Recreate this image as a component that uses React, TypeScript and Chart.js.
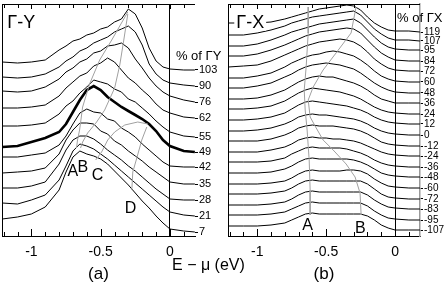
import React, { useEffect, useRef } from "react";
import { Chart, registerables } from "chart.js";

Chart.register(...registerables);

const FONT = '"Liberation Sans", Arial, Helvetica, sans-serif';

// Energy grid E - mu (eV) shared by all spectra
const energy = [-1.21, -1.1, -1.0, -0.9, -0.8, -0.75, -0.7, -0.65, -0.6, -0.55, -0.5, -0.45, -0.4, -0.35, -0.3, -0.25, -0.2, -0.15, -0.1, -0.05, 0, 0.1, 0.18];
const energyTicks = [-1.2, -1.1, -1.0, -0.9, -0.8, -0.7, -0.6, -0.5, -0.4, -0.3, -0.2, -0.1, 0, 0.1];
const labelledEnergies = [-1, -0.5, 0];

// ---------- Panel (a) : Gamma-Y, intensity (arb. units, offset) ----------
const gyLabels = ["103", "90", "76", "62", "55", "49", "42", "35", "28", "21", "7"];
const gy103 = [174, 173, 174, 176, 186, 190, 195, 197, 201, 203, 207, 209, 214, 217, 227, 222, 208, 188, 175, 169, 167, 166, 166];
const gy90 = [159, 158, 159, 162, 169, 175, 179, 185, 188, 193, 196, 199, 204, 207, 210, 204, 191, 172, 162, 156, 153, 151, 150];
const gy76 = [145, 144, 145, 149, 157, 164, 168, 174, 177, 183, 185, 190, 191, 193, 188, 177, 168, 158, 150, 144, 140, 136, 134];
const gy62 = [128, 128, 129, 131, 140, 148, 154, 160, 163, 170, 173, 178, 174, 166, 158, 153, 146, 140, 132, 126, 123, 119, 118];
const gy55 = [110, 110, 111, 113, 122, 130, 135, 143, 149, 156, 154, 152, 147, 144, 137, 134, 128, 122, 115, 109, 104, 100, 99];
const gy49 = [89, 90, 94, 98, 104, 112, 124, 136, 146, 150, 146, 139, 134, 129, 125, 121, 117, 112, 105, 96, 90, 85, 84];
const gy42 = [79, 79, 81, 83, 91, 100, 112, 123, 127, 124, 123, 117, 115, 108, 104, 99, 92, 86, 80, 74, 70, 69, 69];
const gy35 = [63, 64, 65, 68, 82, 96, 106, 113, 113, 112, 105, 102, 95, 91, 85, 80, 75, 69, 64, 59, 54, 52, 52];
const gy28 = [48, 48, 50, 54, 72, 86, 96, 100, 100, 97, 92, 86, 81, 76, 70, 65, 59, 53, 47, 42, 37, 36, 36];
const gy21 = [33, 32, 36, 41, 56, 70, 85, 92, 90, 87, 82, 77, 71, 65, 59, 53, 47, 41, 35, 29, 24, 21, 20];
const gy7 = [17, 19, 22, 29, 46, 64, 79, 85, 82, 80, 77, 72, 65, 58, 51, 43, 35, 28, 20, 13, 7, 5, 4];
const gyCurves = [gy103, gy90, gy76, gy62, gy55, gy49, gy42, gy35, gy28, gy21, gy7];
const gyThick = 5;

// dispersion guide lines (E, intensity)
const gyTrackA = [[-0.304, 224], [-0.42, 196], [-0.507, 176], [-0.58, 152], [-0.63, 129], [-0.652, 106], [-0.667, 96], [-0.674, 88]];
const gyTrackB = [[-0.304, 222], [-0.333, 196], [-0.362, 171], [-0.399, 148], [-0.471, 126], [-0.529, 114], [-0.594, 103], [-0.63, 94], [-0.645, 88]];
const gyTrackC = [[-0.536, 76], [-0.493, 84], [-0.449, 96], [-0.399, 104], [-0.326, 111], [-0.232, 114], [-0.159, 112]];
const gyTrackD = [[-0.275, 46], [-0.268, 64], [-0.239, 78], [-0.203, 96], [-0.167, 109]];

// ---------- Panel (b) : Gamma-X ----------
const gxLabels = ["119", "107", "95", "84", "72", "60", "48", "36", "24", "12", "0", "-12", "-24", "-36", "-48", "-60", "-72", "-83", "-95", "-107"];
const gx119 = [208, 208, 208, 209, 212, 214, 216, 218, 220, 222, 223, 224, 225, 226, 225, 221, 214, 208, 204, 201, 200, 200, 199];
const gx107 = [196, 196, 198, 201, 205, 208, 210, 212, 214, 215, 216, 217, 218, 219, 220, 216, 209, 202, 197, 193, 191, 191, 190];
const gx95 = [185, 185, 187, 191, 196, 199, 201, 203, 205, 207, 208, 209, 210, 211, 212, 208, 201, 194, 188, 184, 182, 181, 181];
const gx84 = [175, 175, 177, 181, 186, 189, 192, 195, 197, 199, 200, 201, 202, 203, 202, 198, 191, 184, 178, 174, 171, 170, 170];
const gx72 = [164, 165, 166, 170, 176, 179, 182, 185, 187, 189, 190, 191, 192, 191, 189, 185, 179, 172, 167, 163, 161, 160, 160];
const gx60 = [153, 153, 155, 158, 164, 168, 171, 174, 176, 177, 179, 180, 179, 177, 175, 171, 166, 160, 155, 152, 150, 149, 149];
const gx48 = [143, 143, 145, 148, 154, 157, 161, 164, 166, 167, 168, 167, 166, 164, 162, 158, 153, 148, 144, 141, 139, 138, 138];
const gx36 = [132, 132, 133, 136, 141, 145, 149, 152, 154, 155, 154, 154, 152, 150, 148, 145, 141, 136, 132, 130, 128, 128, 128];
const gx24 = [122, 122, 123, 125, 130, 134, 138, 141, 143, 142, 141, 140, 139, 137, 135, 132, 128, 124, 121, 119, 118, 117, 117];
const gx12 = [111, 111, 112, 114, 118, 122, 126, 129, 130, 129, 128, 127, 126, 125, 123, 121, 118, 114, 111, 109, 108, 107, 107];
const gx0 = [100, 100, 101, 103, 107, 110, 114, 116, 117, 116, 116, 115, 114, 113, 112, 110, 107, 103, 100, 98, 97, 96, 96];
const gxm12 = [90, 90, 90, 92, 96, 99, 103, 105, 106, 105, 105, 105, 104, 103, 102, 100, 97, 93, 89, 87, 86, 85, 85];
const gxm24 = [79, 79, 79, 81, 84, 87, 91, 93, 94, 93, 93, 92, 92, 91, 90, 88, 85, 82, 79, 77, 76, 75, 75];
const gxm36 = [69, 69, 69, 70, 73, 77, 80, 83, 84, 83, 83, 83, 83, 82, 80, 78, 75, 71, 68, 66, 65, 64, 64];
const gxm48 = [58, 58, 58, 59, 62, 65, 69, 72, 73, 72, 72, 72, 72, 72, 71, 69, 66, 62, 58, 56, 55, 54, 54];
const gxm60 = [47, 47, 47, 48, 50, 53, 57, 60, 61, 60, 60, 60, 60, 61, 61, 60, 57, 52, 48, 45, 44, 43, 43];
const gxm72 = [37, 37, 37, 38, 40, 43, 47, 50, 51, 50, 50, 50, 50, 50, 50, 50, 47, 42, 37, 34, 33, 32, 32];
const gxm83 = [26, 26, 26, 27, 29, 32, 36, 39, 40, 39, 39, 39, 39, 39, 39, 39, 36, 31, 27, 24, 23, 22, 22];
const gxm95 = [16, 16, 16, 17, 19, 22, 25, 28, 29, 28, 28, 28, 28, 28, 28, 28, 25, 20, 16, 13, 12, 11, 11];
const gxm107 = [5, 5, 5, 6, 8, 11, 14, 17, 18, 17, 17, 17, 17, 17, 17, 17, 15, 11, 6, 3, 1, 1, 1];
const gxCurves = [gx119, gx107, gx95, gx84, gx72, gx60, gx48, gx36, gx24, gx12, gx0, gxm12, gxm24, gxm36, gxm48, gxm60, gxm72, gxm83, gxm95, gxm107];

const gxTrackA = [[-0.63, 224], [-0.63, 198], [-0.645, 164], [-0.659, 141], [-0.652, 121], [-0.638, 101], [-0.623, 71], [-0.616, 41], [-0.616, 16]];
const gxTrackB = [[-0.283, 224], [-0.319, 198], [-0.428, 178], [-0.522, 161], [-0.594, 144], [-0.63, 131], [-0.616, 114], [-0.572, 103], [-0.522, 91], [-0.449, 81], [-0.355, 67], [-0.29, 54], [-0.254, 38], [-0.246, 16]];

type Mark = { text: string; x: number; y: number; size: number; bg?: boolean };

const gyMarks: Mark[] = [
  { text: "\u0393-Y", x: -1.174, y: 208, size: 18 },
  { text: "% of \u0393Y", x: 0.043, y: 176, size: 13 },
  { text: "A", x: -0.739, y: 60, size: 16 },
  { text: "B", x: -0.667, y: 64, size: 16 },
  { text: "C", x: -0.565, y: 56, size: 16 },
  { text: "D", x: -0.326, y: 23, size: 16 },
];
const gxMarks: Mark[] = [
  { text: "\u0393-X", x: -1.152, y: 203, size: 18, bg: true },
  { text: "% of \u0393X", x: 0.0145, y: 209, size: 13 },
  { text: "A", x: -0.674, y: 1, size: 16 },
  { text: "B", x: -0.29, y: -2, size: 16 },
];

function framePlugin() {
  return {
    id: "frame",
    afterDatasetsDraw(chart: any) {
      const { ctx, chartArea } = chart;
      const { left, right, top, bottom } = chartArea;
      const x = chart.scales.x;
      ctx.save();
      ctx.strokeStyle = "#000";
      ctx.lineWidth = 1;
      ctx.beginPath();
      ctx.moveTo(left, Math.round(top) + 0.5);
      ctx.lineTo(right, Math.round(top) + 0.5);
      energyTicks.forEach((v) => {
        const px = Math.round(x.getPixelForValue(v)) + 0.5;
        const major = labelledEnergies.includes(v);
        ctx.moveTo(px, bottom);
        ctx.lineTo(px, bottom - (major ? 7 : 4));
        ctx.moveTo(px, top);
        ctx.lineTo(px, top + (major ? 5 : 4));
      });
      ctx.stroke();
      ctx.restore();
    },
  };
}

function marksPlugin(marks: Mark[]) {
  return {
    id: "marks",
    afterDraw(chart: any) {
      const { ctx } = chart;
      const x = chart.scales.x;
      const y = chart.scales.y;
      marks.forEach((m) => {
        ctx.save();
        ctx.font = `${m.size}px ${FONT}`;
        ctx.textAlign = "left";
        ctx.textBaseline = "alphabetic";
        const px = x.getPixelForValue(m.x);
        const py = y.getPixelForValue(m.y);
        if (m.bg) {
          const w = ctx.measureText(m.text).width;
          ctx.fillStyle = "#fff";
          ctx.fillRect(px - 2, py - m.size * 0.8, w + 4, m.size * 0.95);
        }
        ctx.fillStyle = "#000";
        ctx.fillText(m.text, px, py);
        ctx.restore();
      });
    },
  };
}

type PanelOpts = {
  curves: number[][];
  labels: string[];
  thick: number;
  tracks: number[][][];
  yMin: number;
  yMax: number;
  padLeft: number;
  rightWidth: number;
  labelSize: number;
  rightBorder: string | null;
  panel: string;
  marks: Mark[];
};

function makeChart(canvas: HTMLCanvasElement, o: PanelOpts) {
  const datasets: any[] = [];
  o.tracks.forEach((t) =>
    datasets.push({
      data: t.map(([x, y]) => ({ x, y })),
      borderColor: "#a0a0a0",
      borderWidth: 1,
      pointRadius: 0,
    })
  );
  o.curves.forEach((c, i) =>
    datasets.push({
      data: c.map((v, k) => ({ x: energy[k], y: v })),
      borderColor: "#000",
      borderWidth: i === o.thick ? 2.6 : 1,
      pointRadius: 0,
    })
  );
  return new Chart(canvas, {
    type: "line",
    data: { datasets },
    options: {
      responsive: false,
      animation: false,
      devicePixelRatio: 1,
      events: [],
      layout: { padding: { left: o.padLeft, top: 4, right: 0, bottom: 0 } },
      plugins: { legend: { display: false }, tooltip: { enabled: false } },
      elements: { point: { radius: 0 }, line: { tension: 0 } },
      scales: {
        x: {
          type: "linear",
          min: -1.212,
          max: 0.181,
          afterBuildTicks: (s: any) => {
            s.ticks = energyTicks.map((v) => ({ value: v }));
          },
          afterFit: (s: any) => {
            s.height = 50;
            s.paddingLeft = 0;
            s.paddingRight = 0;
          },
          ticks: {
            autoSkip: false,
            maxRotation: 0,
            minRotation: 0,
            padding: 8,
            color: "#000",
            font: { family: FONT, size: 14 },
            callback: (v: any) => (labelledEnergies.includes(v) ? String(v) : ""),
          },
          grid: {
            drawTicks: false,
            drawOnChartArea: true,
            lineWidth: 1,
            color: (c: any) => (c.tick && c.tick.value === 0 ? "#000" : "rgba(0,0,0,0)"),
          },
          border: { display: true, color: "#000", width: 1 },
          title: {
            display: true,
            text: o.panel,
            color: "#000",
            font: { family: FONT, size: 17 },
            padding: { top: 0, bottom: 1 },
          },
        },
        y: {
          type: "linear",
          position: "left",
          min: o.yMin,
          max: o.yMax,
          ticks: { display: false },
          grid: { drawOnChartArea: false, drawTicks: false },
          border: { display: true, color: "#000", width: 1 },
          afterFit: (s: any) => {
            s.width = 0;
            s.paddingTop = 0;
            s.paddingBottom = 0;
          },
        },
        yr: {
          type: "linear",
          position: "right",
          min: o.yMin,
          max: o.yMax,
          afterBuildTicks: (s: any) => {
            s.ticks = o.curves.map((c) => ({ value: c[c.length - 1] }));
          },
          afterFit: (s: any) => {
            s.width = o.rightWidth;
            s.paddingTop = 0;
            s.paddingBottom = 0;
          },
          ticks: {
            autoSkip: false,
            padding: 1,
            color: "#000",
            font: { family: FONT, size: o.labelSize },
            callback: (_v: any, i: number) => o.labels[i],
          },
          grid: { drawOnChartArea: false, drawTicks: true, tickLength: 3, color: "#000", lineWidth: 1 },
          border: o.rightBorder ? { display: true, color: o.rightBorder, width: 1.5 } : { display: false },
        },
      },
    } as any,
    plugins: [framePlugin(), marksPlugin(o.marks)],
  });
}

export default function App() {
  const refA = useRef<HTMLCanvasElement>(null);
  const refB = useRef<HTMLCanvasElement>(null);

  useEffect(() => {
    const a = makeChart(refA.current!, {
      curves: gyCurves,
      labels: gyLabels,
      thick: gyThick,
      tracks: [gyTrackA, gyTrackB, gyTrackC, gyTrackD],
      yMin: 0,
      yMax: 232,
      padLeft: 2,
      rightWidth: 28,
      labelSize: 11,
      rightBorder: null,
      panel: "(a)",
      marks: gyMarks,
    });
    const b = makeChart(refB.current!, {
      curves: gxCurves,
      labels: gxLabels,
      thick: -1,
      tracks: [gxTrackA, gxTrackB],
      yMin: -5,
      yMax: 227,
      padLeft: 5,
      rightWidth: 26,
      labelSize: 10,
      rightBorder: "#9a9a9a",
      panel: "(b)",
      marks: gxMarks,
    });
    return () => {
      a.destroy();
      b.destroy();
    };
  }, []);

  return (
    <div style={{ position: "fixed", left: 0, top: 0, width: 446, height: 286, background: "#fff", overflow: "hidden" }}>
      <canvas ref={refA} width={223} height={286} style={{ position: "absolute", left: 0, top: 0, width: 223, height: 286 }} />
      <canvas ref={refB} width={223} height={286} style={{ position: "absolute", left: 223, top: 0, width: 223, height: 286 }} />
      <div
        style={{
          position: "absolute",
          left: 172,
          top: 257,
          fontFamily: FONT,
          fontSize: 16,
          lineHeight: "16px",
          whiteSpace: "nowrap",
          color: "#000",
        }}
      >
        E {"\u2212"} {"\u03bc"} (eV)
      </div>
    </div>
  );
}
